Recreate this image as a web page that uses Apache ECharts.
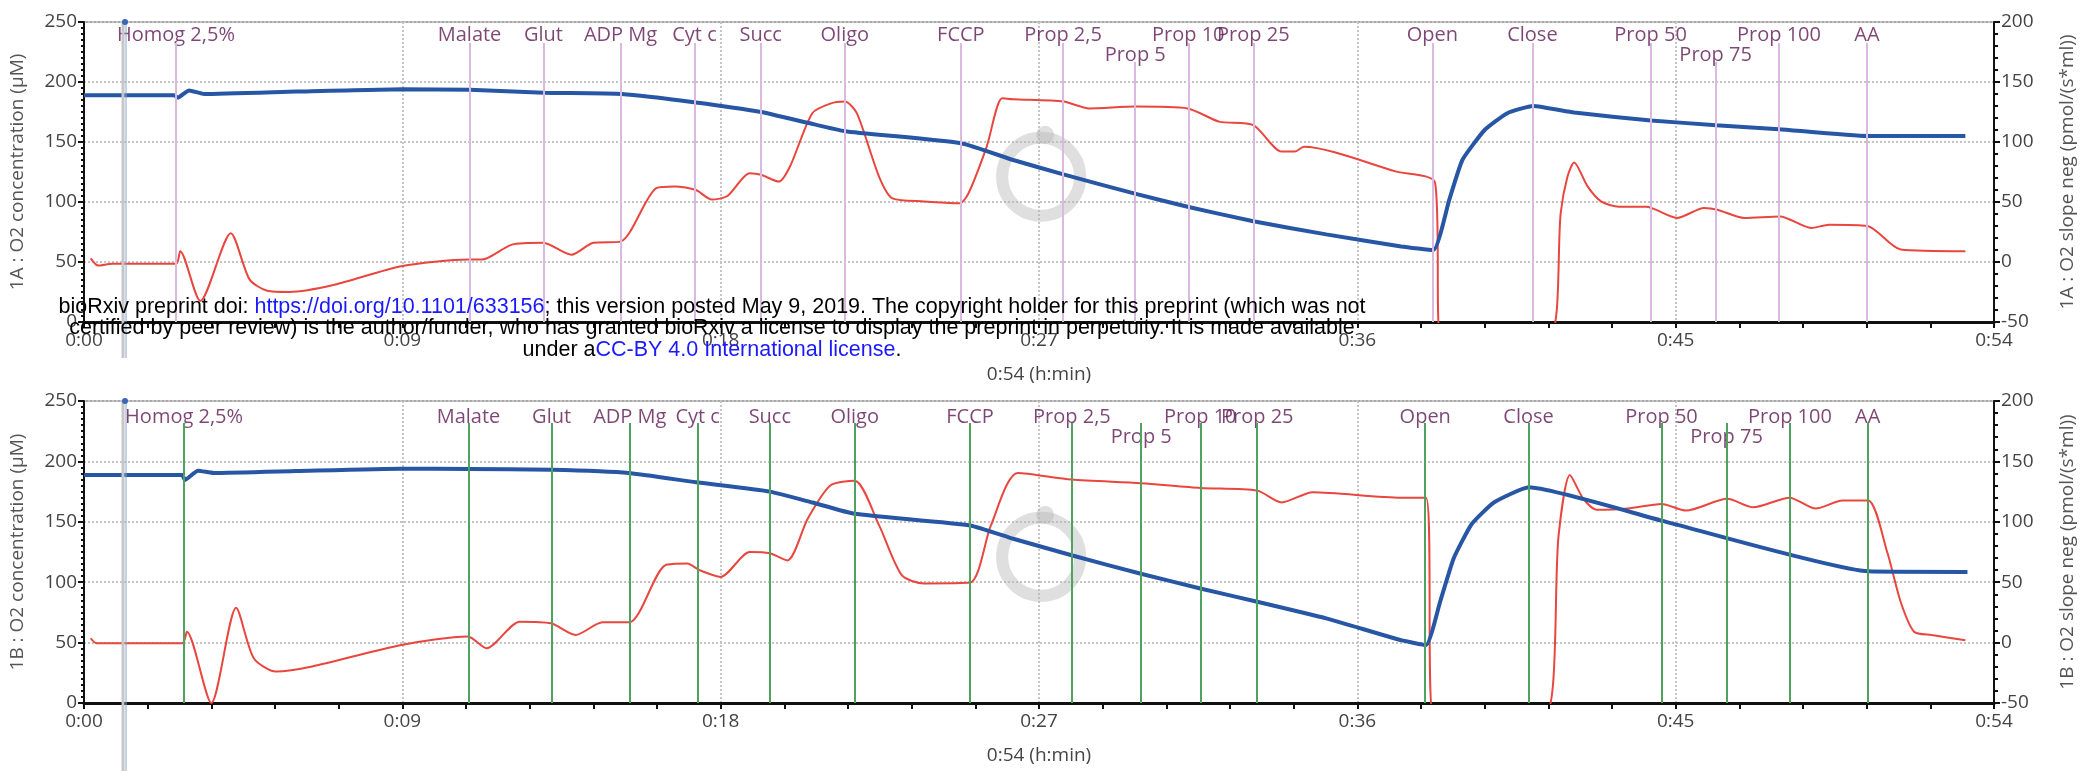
<!DOCTYPE html>
<html>
<head>
<meta charset="utf-8">
<title>O2 traces 1A / 1B</title>
<script src="https://cdn.jsdelivr.net/npm/echarts@6/dist/echarts.min.js"></script>
<style>
    html, body { margin: 0; padding: 0; background: #fff; }
    #main { width: 2094px; height: 775px; }
</style>
</head>
<body>
<div id="main"></div>
<script type="text/javascript">
    // times are in minutes, O2 in uM (left axis), slope in pmol/(s*ml) (right axis)
    var eventNames = ['Homog 2,5%', 'Malate', 'Glut', 'ADP Mg', 'Cyt c', 'Succ', 'Oligo', 'FCCP', 'Prop 2,5', 'Prop 5',
        'Prop 10', 'Prop 25', 'Open', 'Close', 'Prop 50', 'Prop 75', 'Prop 100', 'AA'];
    var eventRow = [1, 1, 1, 1, 1, 1, 1, 1, 1, 2, 1, 1, 1, 1, 1, 2, 1, 1];
    var eventTimeA = [2.60, 10.90, 12.99, 15.17, 17.26, 19.13, 21.51, 24.79, 27.68, 29.72, 31.22, 33.06, 38.12, 40.95, 44.29, 46.13, 47.92, 50.41];
    var eventTimeB = [2.83, 10.87, 13.22, 15.43, 17.35, 19.39, 21.79, 25.05, 27.93, 29.89, 31.56, 33.17, 37.92, 40.84, 44.60, 46.44, 48.23, 50.43];
    var cursorTime = 1.16;

    var o2A = [[0, 189], [2.55, 189], [2.65, 187], [2.97, 193], [3.4, 190], [6, 192], [9, 194], [10.9, 193.5], [13, 191], [15.2, 190],
        [17.3, 183], [19.14, 175], [20.46, 166], [21.51, 159], [24.8, 149], [26.27, 135], [27.69, 123], [29.71, 107], [31.2, 96],
        [33.06, 84], [35.12, 73], [37.24, 63], [38.15, 60], [38.6, 102], [38.97, 135], [39.6, 160], [40.24, 174], [40.97, 180],
        [42.13, 174.5], [44.3, 168], [46.14, 164], [47.92, 160.7], [50.42, 155], [53.19, 155]];
    var slopeA = [[0.19, 3], [0.4, -3], [0.8, -1.5], [2.6, -1.5], [2.72, 9], [3.29, -32.5], [4.15, 24], [4.68, -14.5], [5.18, -24],
        [5.8, -25], [7.08, -19], [8.97, -3.5], [10.87, 2], [11.25, 2], [12.1, 14.5], [12.98, 16], [13.78, 6], [14.4, 16], [15.17, 17],
        [16.18, 61.6], [16.7, 63], [17.3, 60], [17.75, 52], [18.19, 55], [18.82, 74], [19.14, 72.7], [19.64, 67], [19.96, 79.6],
        [20.59, 124], [21.1, 132], [21.51, 133.7], [21.85, 124], [22.48, 71], [22.86, 53], [23.75, 50.5], [24.76, 49], [25.01, 57.5],
        [25.52, 96], [25.96, 136.4], [26.27, 135.6], [27.69, 133.7], [28.42, 128], [29.71, 129.5], [31.2, 128], [32.09, 117],
        [33.06, 114], [33.86, 92], [34.23, 92], [34.49, 96], [37.08, 75.5], [38.2, 66], [38.35, -60], [41.45, -60], [41.75, 41],
        [41.94, 71], [42.13, 83], [42.51, 63], [42.89, 50.5], [43.4, 46], [44.16, 46], [45.04, 36.7], [45.8, 45], [46.18, 43.6],
        [46.94, 36.7], [47.95, 38], [48.83, 28.4], [49.34, 31], [50.42, 30], [51.36, 10.4], [53.19, 9]];

    var o2B = [[0, 188.7], [2.78, 188.7], [2.85, 184.6], [3.22, 192.3], [3.67, 190.4], [6, 192], [8.97, 194], [10.85, 193.7],
        [13.2, 193], [15.4, 190.4], [17.3, 182.7], [19.39, 175], [20.59, 166], [21.79, 156.6], [25.05, 147], [26.27, 136],
        [27.92, 122.3], [29.88, 107], [31.56, 94.8], [33.17, 83.8], [35.12, 70], [37.24, 52], [37.94, 48], [38.34, 83.8],
        [38.72, 119.5], [39.23, 148], [39.86, 166], [40.85, 178.6], [44.6, 151], [50.44, 109], [53.25, 108.5]];
    var slopeB = [[0.19, 3.6], [0.35, -0.5], [2.78, -0.5], [2.91, 9], [3.6, -50], [4.3, 28.8], [4.8, -13], [5.43, -24], [6.45, -19.8],
        [8.97, -2], [10.85, 5], [11.38, -4.7], [12.32, 17.3], [13.2, 16], [13.9, 6.3], [14.66, 16.8], [15.42, 16.8], [16.43, 64],
        [17.06, 65.4], [17.4, 60], [18, 54.4], [18.82, 75], [19.39, 74], [19.89, 68], [20.46, 102.5], [21.1, 130], [21.79, 134],
        [22.48, 97], [23.12, 55.8], [23.75, 49], [25.05, 49.7], [25.64, 97], [26.4, 140.4], [27.92, 135], [29.88, 132], [31.56, 128],
        [33.17, 125.8], [33.86, 116], [34.74, 124.5], [37.24, 120], [37.94, 120], [38.15, -60], [41.3, -60], [41.69, 88.7],
        [42.01, 138.7], [42.39, 119], [42.77, 110], [43.65, 111], [44.6, 114.8], [45.29, 109.3], [46.46, 119], [47.19, 112],
        [48.22, 120], [48.96, 111], [49.72, 117.6], [50.44, 117.6], [50.98, 75], [51.36, 33.8], [51.74, 9], [52.24, 6.3], [53.19, 2]];

    var panelNames = ['1A', '1B'];

    var FONT = '"Open Sans", "DejaVu Sans", sans-serif';
    var BLUE = '#2756a5', RED = '#e8463e', PURPLE = '#5c1852';
    var myChart = echarts.init(document.getElementById('main'));

    function fmtTime(v) {
        var m = Math.round(v);
        return '0:' + (m < 10 ? '0' + m : m);
    }

    function xAxisFor(i) {
        return {
            type: 'value', gridIndex: i, min: 0, max: 54, interval: 9,
            name: '0:54 (h:min)', nameLocation: 'middle', nameGap: 43,
            nameTextStyle: { color: '#444', fontSize: 19, fontFamily: FONT },
            axisLine: { lineStyle: { color: '#111', width: 3 } },
            axisTick: { length: 6, lineStyle: { color: '#111', width: 2 } },
            minorTick: { show: true, splitNumber: 5, length: 6, lineStyle: { color: '#111', width: 2 } },
            axisLabel: { formatter: fmtTime, color: '#444', fontSize: 19, fontFamily: FONT, margin: 9, showMinLabel: true, showMaxLabel: true },
            splitLine: { show: true, lineStyle: { type: 'dotted', color: '#c4c4c4', width: 2 } }
        };
    }

    function yAxesFor(i) {
        return [{
            type: 'value', gridIndex: i, min: 0, max: 250, interval: 50, position: 'left',
            name: panelNames[i] + ' : O2 concentration (µM)', nameLocation: 'middle', nameGap: 57,
            nameTextStyle: { color: '#555', fontSize: 19, fontFamily: FONT },
            axisLine: { show: true, lineStyle: { color: '#111', width: 2 } },
            axisTick: { show: true, length: 6, lineStyle: { color: '#111', width: 2 } },
            minorTick: { show: true, splitNumber: 10, length: 3, lineStyle: { color: '#111', width: 2 } },
            axisLabel: { color: '#444', fontSize: 19, fontFamily: FONT, margin: 7 },
            splitLine: { show: true, lineStyle: { type: 'dotted', color: '#c4c4c4', width: 2 } }
        }, {
            type: 'value', gridIndex: i, min: -50, max: 200, interval: 50, position: 'right',
            name: panelNames[i] + ' : O2 slope neg (pmol/(s*ml))', nameLocation: 'middle', nameGap: 64,
            nameRotate: 90,
            nameTextStyle: { color: '#555', fontSize: 19, fontFamily: FONT },
            axisLine: { show: true, lineStyle: { color: '#111', width: 2 } },
            axisTick: { show: true, length: 6, lineStyle: { color: '#111', width: 2 } },
            minorTick: { show: true, splitNumber: 5, length: 4, lineStyle: { color: '#111', width: 2 } },
            axisLabel: { color: '#444', fontSize: 19, fontFamily: FONT, margin: 7 },
            splitLine: { show: false }
        }];
    }

    // label heights / line tops per panel, in uM
    var rowY = [[239, 222.5], [236.8, 220.3]];
    var lineTop = [[232.5, 216.7], [231.8, 231.8]];
    var eventLineColor = ['#d9b9df', '#4fa35f'];

    function seriesFor(i, times, o2, slope) {
        var labels = [], lines = [];
        for (var k = 0; k < eventNames.length; k++) {
            labels.push([times[k], rowY[i][eventRow[k] - 1], eventNames[k]]);
            lines.push([{ coord: [times[k], lineTop[i][eventRow[k] - 1]] }, { coord: [times[k], 0] }]);
        }
        return [{
            type: 'scatter', xAxisIndex: i, yAxisIndex: i * 2, data: labels, symbolSize: 1,
            itemStyle: { color: 'rgba(0,0,0,0)' }, silent: true, z: 1,
            label: {
                show: true, position: 'inside', color: PURPLE, fontSize: 20, fontFamily: FONT,
                formatter: function (p) { return p.data[2]; }
            },
            markLine: {
                silent: true, symbol: 'none', label: { show: false },
                lineStyle: { color: eventLineColor[i], width: 2, type: 'solid' },
                data: lines
            }
        }, {
            type: 'line', xAxisIndex: i, yAxisIndex: i * 2, data: o2, showSymbol: false, smooth: 0.15,
            lineStyle: { color: BLUE, width: 4 }, itemStyle: { color: BLUE }, z: 4
        }, {
            type: 'line', xAxisIndex: i, yAxisIndex: i * 2 + 1, data: slope, showSymbol: false, smooth: 0.25,
            lineStyle: { color: RED, width: 2 }, itemStyle: { color: RED }, z: 3
        }];
    }

    var option = {
        backgroundColor: '#fff',
        animation: false,
        grid: [
            { left: 84, right: 100, top: 22, height: 300, show: true, borderColor: '#a8a8a8', borderWidth: 2 },
            { left: 84, right: 100, top: 401, height: 302, show: true, borderColor: '#a8a8a8', borderWidth: 2 }
        ],
        xAxis: [xAxisFor(0), xAxisFor(1)],
        yAxis: yAxesFor(0).concat(yAxesFor(1)),
        series: seriesFor(0, eventTimeA, o2A, slopeA).concat(seriesFor(1, eventTimeB, o2B, slopeB))
    };
    myChart.setOption(option);

    // cursor mark, faint logo and the preprint notice on top
    var logoAt = [[27.06, 121], [27.06, 121]];
    var g = [];
    [0, 1].forEach(function (i) {
        var top = myChart.convertToPixel({ xAxisIndex: i, yAxisIndex: i * 2 }, [cursorTime, 250]);
        var bot = myChart.convertToPixel({ xAxisIndex: i, yAxisIndex: i * 2 }, [cursorTime, 0]);
        var ext = i === 0 ? 36 : 68;
        g.push({ type: 'line', z: 10, shape: { x1: top[0] - 2, y1: top[1], x2: top[0] - 2, y2: bot[1] + ext }, style: { stroke: '#c6c6c6', lineWidth: 3 } });
        g.push({ type: 'line', z: 10, shape: { x1: top[0] + 1, y1: top[1], x2: top[0] + 1, y2: bot[1] + ext }, style: { stroke: '#8aa3cc', lineWidth: 1 } });
        g.push({ type: 'circle', z: 11, shape: { cx: top[0], cy: top[1], r: 3 }, style: { fill: '#3a67b8' } });
        var w = myChart.convertToPixel({ xAxisIndex: i, yAxisIndex: i * 2 }, logoAt[i]);
        g.push({ type: 'circle', z: 0, shape: { cx: w[0], cy: w[1], r: 39 }, style: { fill: 'none', stroke: '#b8b8b8', lineWidth: 12, opacity: 0.45 } });
        g.push({ type: 'circle', z: 0, shape: { cx: w[0] + 4, cy: w[1] - 42, r: 9 }, style: { fill: '#b8b8b8', opacity: 0.45 } });
    });

    var notice = [
        'bioRxiv preprint doi: {l|https://doi.org/10.1101/633156}; this version posted May 9, 2019. The copyright holder for this preprint (which was not',
        'certified by peer review) is the author/funder, who has granted bioRxiv a license to display the preprint in perpetuity. It is made available',
        'under a{l|CC-BY 4.0 International license}.'
    ];
    var noticeFont = '21.5px "Liberation Sans", Arial, sans-serif';
    notice.forEach(function (t, k) {
        g.push({
            type: 'text', z: 100, x: 712, y: 307 + k * 21.5,
            style: {
                text: t, fill: '#000', font: noticeFont,
                align: 'center', verticalAlign: 'middle',
                rich: { l: { fill: '#1a1aff', font: noticeFont } }
            }
        });
    });
    myChart.setOption({ graphic: g });
</script>
</body>
</html>
